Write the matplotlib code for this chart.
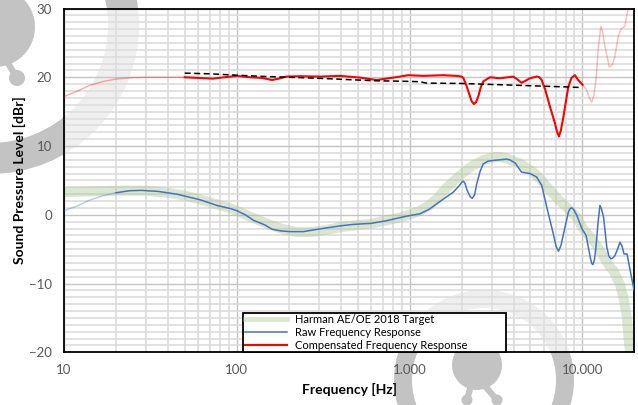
import matplotlib
matplotlib.use('Agg')
import numpy as np
import matplotlib.pyplot as plt
import matplotlib.transforms as mtransforms
from matplotlib.ticker import (LogLocator, MultipleLocator, FixedLocator,
                               FixedFormatter, NullFormatter)
from matplotlib.patches import Wedge, Circle
from matplotlib.lines import Line2D

plt.rcParams['font.family'] = ['Lato', 'DejaVu Sans']

# ---------------- data ----------------
target_f = [10, 15, 20, 30, 40, 50, 60, 70, 85, 100, 120, 150, 180, 220, 270, 330,
            400, 500, 600, 700, 850, 1000, 1150, 1300, 1450, 1650, 1950, 2300, 2700,
            3100, 3350, 3650, 4365, 5200, 5690, 6500, 7420, 8110, 9270, 10120, 11570,
            12650, 14450, 15100, 16500, 17300, 18030, 18830, 19500, 20000]
target_db = [3.3, 3.4, 3.5, 3.5, 3.2, 2.8, 2.3, 1.8, 1.2, 0.6, -0.3, -1.3, -2.0, -2.5,
             -2.5, -2.2, -1.8, -1.5, -1.3, -0.9, -0.5, 0.0, 0.6, 1.4, 2.4, 4.0, 5.7,
             7.1, 8.0, 8.4, 8.4, 8.2, 7.45, 6.2, 5.25, 3.55, 2.0, 1.1, -0.35, -2.05,
             -3.75, -5.2, -7.6, -8.1, -10.1, -12.0, -14.6, -19.8, -23.0, -26.0]

raw_faded_f = [10, 12, 14, 17, 20]
raw_faded_db = [0.6, 1.3, 2.1, 2.8, 3.2]

raw_f = [20, 24, 28, 35, 45, 61, 77, 92, 100, 112, 125, 146, 160, 180, 204, 243, 303,
         400, 473, 600, 738, 850, 963, 1150, 1300, 1437, 1793, 1950, 2000, 2046, 2100,
         2150, 2250, 2307, 2380, 2450, 2560, 2672, 2850, 3053, 3340, 3648, 3800, 4100,
         4450, 4980, 5440, 5820, 6230, 6800, 7050, 7280, 7520, 7780, 8310, 8500, 8700,
         8950, 9300, 9960, 10520, 11120, 11350, 11520, 11750, 12000, 12350, 12650,
         12900, 13280, 13860, 14250, 14640, 15000, 15440, 16000, 16530, 17000, 17440,
         18160, 18780, 19950]
raw_db = [3.2, 3.5, 3.55, 3.4, 3.0, 2.2, 1.35, 0.9, 0.6, 0.0, -0.8, -1.5, -2.1, -2.35,
          -2.45, -2.45, -2.05, -1.6, -1.4, -1.25, -0.85, -0.5, -0.2, 0.15, 0.8, 1.6,
          3.3, 4.3, 4.7, 4.9, 4.5, 3.6, 2.6, 2.4, 2.9, 4.5, 6.3, 7.4, 7.8, 7.9, 8.0, 8.1,
          8.0, 7.5, 6.2, 6.0, 5.5, 4.3, 1.1, -2.8, -4.6, -5.3, -4.5, -2.8, 0.4, 0.9,
          1.0, 0.7, -0.1, -2.05, -3.0, -6.2, -7.1, -7.25, -6.6, -4.7, -1.0, 1.35, 0.9,
          -0.35, -4.7, -6.0, -6.4, -6.3, -5.95, -5.0, -4.0, -4.6, -5.7, -5.7, -7.65,
          -11.0]

comp_low_f = [10, 12, 14, 17, 20, 25, 30, 40, 50]
comp_low_db = [17.2, 18.0, 18.8, 19.4, 19.75, 19.95, 20.0, 20.0, 20.0]

comp_f = [50, 60, 73, 85, 100, 120, 140, 150, 160, 175, 194, 233, 303, 396, 517, 645,
          806, 985, 1202, 1568, 1874, 2000, 2048, 2120, 2208, 2290, 2360, 2430, 2500,
          2580, 2673, 2923, 3338, 3984, 4200, 4455, 4700, 4977, 5444, 5650, 5818, 6100,
          6503, 6950, 7150, 7330, 7520, 7770, 8300, 8650, 9070, 9470, 10040]
comp_db = [20.0, 19.9, 19.8, 20.0, 20.2, 20.0, 19.9, 19.75, 19.6, 19.8, 20.1, 20.15,
           20.1, 20.2, 19.95, 19.6, 19.95, 20.3, 20.2, 20.3, 20.2, 20.1, 19.9, 19.0,
           17.7, 16.5, 16.1, 16.4, 17.2, 18.5, 19.4, 20.0, 19.85, 20.1, 19.7, 19.2,
           19.5, 19.85, 20.1, 20.0, 19.6, 18.2, 15.7, 13.3, 12.0, 11.4, 12.3, 14.2, 18.6,
           19.9, 20.3, 19.6, 18.9]

comp_high_f = [10040, 10590, 11000, 11320, 11650, 12000, 12400, 12820, 13150, 13520,
               14320, 14900, 15440, 16100, 16720, 17640, 18460, 20000]
comp_high_db = [18.9, 18.15, 17.0, 16.4, 17.3, 19.6, 24.5, 27.4, 26.5, 24.5, 21.5,
                21.8, 23.0, 25.8, 27.0, 27.4, 30.2, 33.0]

comp_target_f = [50, 70, 100, 150, 200, 300, 500, 620, 1000, 1150, 1250, 2000, 3000,
                 4000, 6000, 8000, 10000]
comp_target_db = [20.6, 20.5, 20.3, 20.1, 20.0, 19.85, 19.6, 19.5, 19.4, 19.35, 19.15,
                  19.1, 18.95, 18.85, 18.7, 18.6, 18.5]

xticks = [10, 100, 1000, 10000]
xtick_labels = ['10', '100', '1.000', '10.000']
legend_labels = ['Harman AE/OE 2018 Target', 'Raw Frequency Response',
                 'Compensated Frequency Response']

# ---------------- figure ----------------
W, H = 638, 405
fig = plt.figure(figsize=(W / 100, H / 100), dpi=100)
fig.patch.set_facecolor('white')
ax = fig.add_axes([64 / W, 1 - 352.3 / H, 570.3 / W, 343.8 / H])
ax.set_facecolor((1, 1, 1, 0.74))

# watermark logos (pixel coordinates, y downward)
px = mtransforms.Affine2D().scale(1 / W, -1 / H).translate(0, 1) + fig.transFigure
wm = '#c3c3c3'
shapes = [Wedge((-10, 25), 149, 0, 360, width=31), Circle((-5, 27), 40),
          Circle((17, 78), 8),
          Wedge((484, 380), 90, 0, 360, width=18), Circle((477, 365), 25),
          Circle((467, 400), 5.5), Circle((497, 400), 5.5)]
for s in shapes:
    s.set_transform(px)
    s.set_facecolor(wm)
    s.set_edgecolor('none')
    s.set_zorder(-1)
    fig.add_artist(s)
for (x0, y0, x1, y1) in [(6, 60, 17, 78), (471, 385, 467, 400), (484, 385, 497, 400)]:
    ln = Line2D([x0, x1], [y0, y1], lw=4.5, color=wm, transform=px, zorder=-1,
                solid_capstyle='round')
    fig.add_artist(ln)

green = '#a9c48f'
blue = '#4472c4'
red = '#ff0000'

ax.plot(target_f, target_db, color=green, alpha=0.40, lw=7.2,
        solid_capstyle='butt', zorder=2)
ax.plot(raw_faded_f, raw_faded_db, color=blue, alpha=0.35, lw=1.1, zorder=3)
ax.plot(raw_f, raw_db, color=blue, lw=1.1, zorder=3)
ax.plot(comp_low_f, comp_low_db, color=red, alpha=0.32, lw=1.1, zorder=3)
ax.plot(comp_high_f, comp_high_db, color=red, alpha=0.25, lw=1.1, zorder=3)
ax.plot(comp_f, comp_db, color=red, lw=1.5, zorder=4)
ax.plot(comp_target_f, comp_target_db, color='black', lw=1.1, dashes=(3.9, 2.3),
        zorder=5)

ax.set_xscale('log')
ax.set_xlim(10, 20000)
ax.set_ylim(-20, 30)

ax.xaxis.set_major_locator(FixedLocator(xticks))
ax.xaxis.set_major_formatter(FixedFormatter(xtick_labels))
ax.xaxis.set_minor_locator(LogLocator(base=10, subs=np.arange(2, 10), numticks=20))
ax.xaxis.set_minor_formatter(NullFormatter())
ax.yaxis.set_major_locator(MultipleLocator(10))
ax.yaxis.set_minor_locator(MultipleLocator(1))

ax.set_axisbelow(True)
ax.grid(which='major', color='#c4c4c4', lw=1.0)
ax.grid(which='minor', color='#dddddd', lw=1.2)

ax.tick_params(which='both', length=0)
ax.tick_params(axis='both', labelsize=9.5, labelcolor='#595959')
ax.tick_params(axis='x', pad=8.5)
ax.tick_params(axis='y', pad=8.6)

for sp in ax.spines.values():
    sp.set_color('black')
    sp.set_linewidth(1.3)

ax.set_xlabel('Frequency [Hz]', fontsize=10, fontweight='bold', color='black')
ax.set_ylabel('Sound Pressure Level [dBr]', fontsize=10, fontweight='bold',
              color='black')
ax.xaxis.set_label_coords(0.5, -0.088)
ax.yaxis.set_label_coords(-0.066, 0.5)

handles = [Line2D([], [], color=green, alpha=0.40, lw=3.5),
           Line2D([], [], color=blue, lw=1.1),
           Line2D([], [], color=red, lw=1.5)]
leg = ax.legend(handles, legend_labels, loc='lower left',
                bbox_to_anchor=(0.314, 0.0, 0.4615, 0.13), mode='expand',
                borderaxespad=0, fontsize=8, frameon=True, fancybox=False,
                framealpha=1, edgecolor='black', borderpad=0.15,
                labelspacing=0.15, handlelength=3.8, handletextpad=0.75)
leg.get_frame().set_linewidth(1.3)
leg.set_zorder(10)

fig.savefig('out.png', dpi=100, facecolor='white')
